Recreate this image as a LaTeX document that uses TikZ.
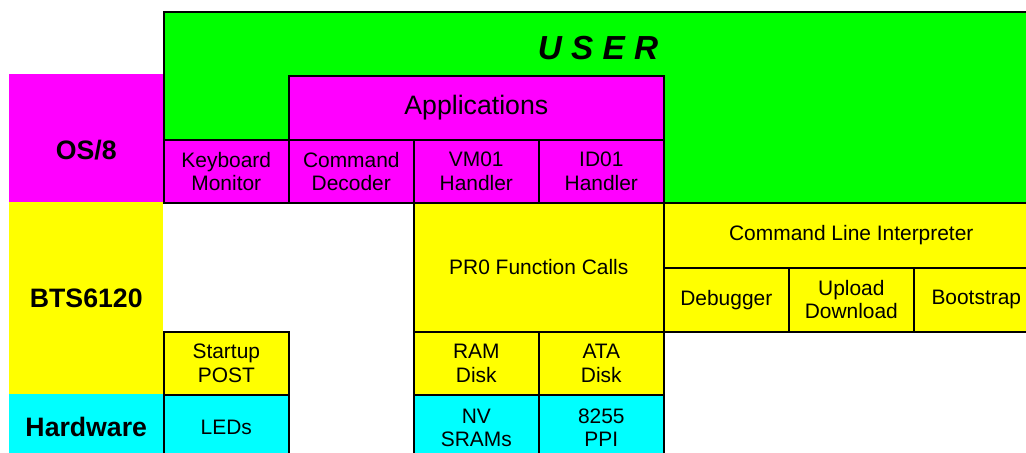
\documentclass[tikz,border=0pt]{standalone}
\usepackage{fontspec}
\setmainfont{Liberation Sans}
\usepackage{xcolor}
\definecolor{userlayer}{HTML}{00FF00}
\definecolor{oslayer}{HTML}{FF00FF}
\definecolor{btslayer}{HTML}{FFFF00}
\definecolor{hwlayer}{HTML}{00FFFF}
\usepackage{tikz}
\usetikzlibrary{positioning}

\begin{document}
\begin{tikzpicture}[x=0.75pt, y=-0.75pt,
      layer/.style={rectangle, draw=black, line width=1.2pt, anchor=north west, inner sep=0pt, align=center, font=\fontsize{15.7}{17.5}\selectfont},
      cell/.style={layer, minimum width=93.75pt, minimum height=47.25pt},
      rowhead/.style={rectangle, anchor=north west, inner sep=0pt, minimum width=115.5pt, font=\bfseries\fontsize{20}{22}\selectfont}
    ]
      \path[use as bounding box, clip] (0,0) rectangle (1026,453);
      % left column
      \node[rowhead, fill=oslayer, minimum height=96pt, label={[font=\bfseries\fontsize{20}{22}\selectfont, yshift=-9pt]center:OS/8}] (os8) at (9,74) {};
      \node[rowhead, fill=btslayer, minimum height=144pt] (bts) at (9,202) {BTS6120};
      \node[rowhead, fill=hwlayer, minimum height=49.5pt] (hw) at (9,394) {Hardware};
      % user layer
      \node[layer, fill=userlayer, minimum width=655pt, minimum height=143.25pt] (user) at (163,11) {};
      \node[font=\bfseries\itshape\fontsize{25}{28}\selectfont] (usertitle) at (598,48) {U S E R};
      \node[layer, fill=oslayer, minimum width=281.25pt, minimum height=48pt, font=\fontsize{20}{23}\selectfont] (apps) at (288,75) {Applications};
      % os/8 row
      \node[cell, fill=oslayer] (kbd) at (163,139) {Keyboard\\Monitor};
      \node[cell, fill=oslayer] (cmd) at (288,139) {Command\\Decoder};
      \node[cell, fill=oslayer] (vm01) at (413,139) {VM01\\Handler};
      \node[cell, fill=oslayer] (id01) at (538,139) {ID01\\Handler};
      % bts6120
      \node[layer, fill=btslayer, minimum width=187.5pt, minimum height=96.75pt] (pr0) at (413,202) {PR0 Function Calls};
      \node[layer, fill=btslayer, minimum width=281.25pt, minimum height=48.75pt] (cli) at (663,202) {Command Line Interpreter};
      \node[cell, fill=btslayer, minimum height=48pt] (dbg) at (663,267) {Debugger};
      \node[cell, fill=btslayer, minimum height=48pt] (updn) at (788,267) {Upload\\Download};
      \node[cell, fill=btslayer, minimum height=48pt] (boot) at (913,267) {Bootstrap};
      \node[cell, fill=btslayer] (post) at (163,331) {Startup\\POST};
      \node[cell, fill=btslayer] (ramdisk) at (413,331) {RAM\\Disk};
      \node[cell, fill=btslayer] (atadisk) at (538,331) {ATA\\Disk};
      % hardware
      \node[cell, fill=hwlayer, minimum height=49.5pt] (leds) at (163,394) {LEDs};
      \node[cell, fill=hwlayer, minimum height=49.5pt] (nvram) at (413,394) {NV\\SRAMs};
      \node[cell, fill=hwlayer, minimum height=49.5pt] (ppi) at (538,394) {8255\\PPI};
    \end{tikzpicture}
\end{document}
